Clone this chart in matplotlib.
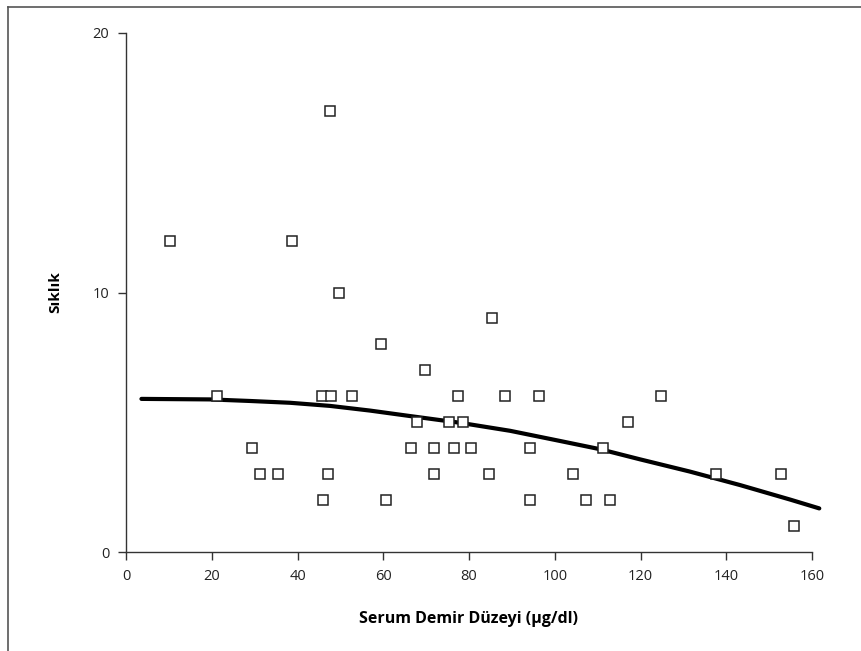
import matplotlib
matplotlib.use("Agg")
import matplotlib.pyplot as plt
from matplotlib.lines import Line2D

plt.rcParams['font.family'] = ['Open Sans', 'DejaVu Sans']

# serum iron level vs frequency
demir = [10.2, 21.3, 29.5, 31.3, 35.5, 38.8, 45.8, 46.0, 47.0, 47.5, 47.7,
         49.7, 52.8, 59.5, 60.7, 66.5, 67.8, 69.7, 71.8, 71.9, 75.4, 76.6,
         77.4, 78.6, 80.4, 84.7, 85.3, 88.4, 94.2, 94.3, 96.4, 104.2, 107.2,
         111.2, 112.9, 117.0, 124.8, 137.7, 152.8, 155.7]
siklik = [12, 6, 4, 3, 3, 12, 6, 2, 3, 17, 6,
          10, 6, 8, 2, 4, 5, 7, 4, 3, 5, 4,
          6, 5, 4, 3, 9, 6, 4, 2, 6, 3, 2,
          4, 2, 5, 6, 3, 3, 1]

# smoothed fit line
fit_x = [3.6, 19.6, 28.9, 38.3, 47.6, 56.9, 66.2, 77.9, 89.6, 101.2,
         110.6, 119.9, 131.5, 143.2, 154.9, 161.7]
fit_y = [5.90, 5.88, 5.82, 5.75, 5.63, 5.45, 5.24, 4.98, 4.67, 4.28,
         3.96, 3.57, 3.10, 2.58, 2.02, 1.68]

x_ticks = [0, 20, 40, 60, 80, 100, 120, 140, 160]
y_ticks = [0, 10, 20]

fig = plt.figure(figsize=(8.62, 6.51), dpi=100)
ax = fig.add_axes([126/862, 1 - 552/651, (812-126)/862, (552-33)/651])

ax.plot(demir, siklik, linestyle='none', marker='s', markersize=7.2,
        markerfacecolor='white', markeredgecolor='#222222', markeredgewidth=1.1,
        zorder=3)
ax.plot(fit_x, fit_y, color='black', linewidth=3.0, solid_capstyle='round',
        solid_joinstyle='round', clip_on=False, zorder=2)

ax.set_xlim(0, 160)
ax.set_ylim(0, 20)
ax.set_xticks(x_ticks)
ax.set_yticks(y_ticks)
for s in ['top', 'right']:
    ax.spines[s].set_visible(False)
for s in ['left', 'bottom']:
    ax.spines[s].set_linewidth(1.0)
    ax.spines[s].set_color('#333333')
ax.tick_params(direction='out', length=6, width=1.0, color='#333333',
               labelsize=10.5, labelcolor='#222222', pad=6)

ax.set_xlabel('Serum Demir Düzeyi (μg/dl)', fontsize=11.5, fontweight='bold',
              labelpad=20)
ax.set_ylabel('Sıklık', fontsize=11, fontweight='bold', labelpad=22)

# outer frame of the figure
fig.add_artist(Line2D([8/862, 8/862], [0, 1 - 7/651], transform=fig.transFigure,
                      color='#555555', linewidth=1.2))
fig.add_artist(Line2D([8/862, 1], [1 - 7/651, 1 - 7/651], transform=fig.transFigure,
                      color='#555555', linewidth=1.2))

fig.savefig('out.png', dpi=100)
